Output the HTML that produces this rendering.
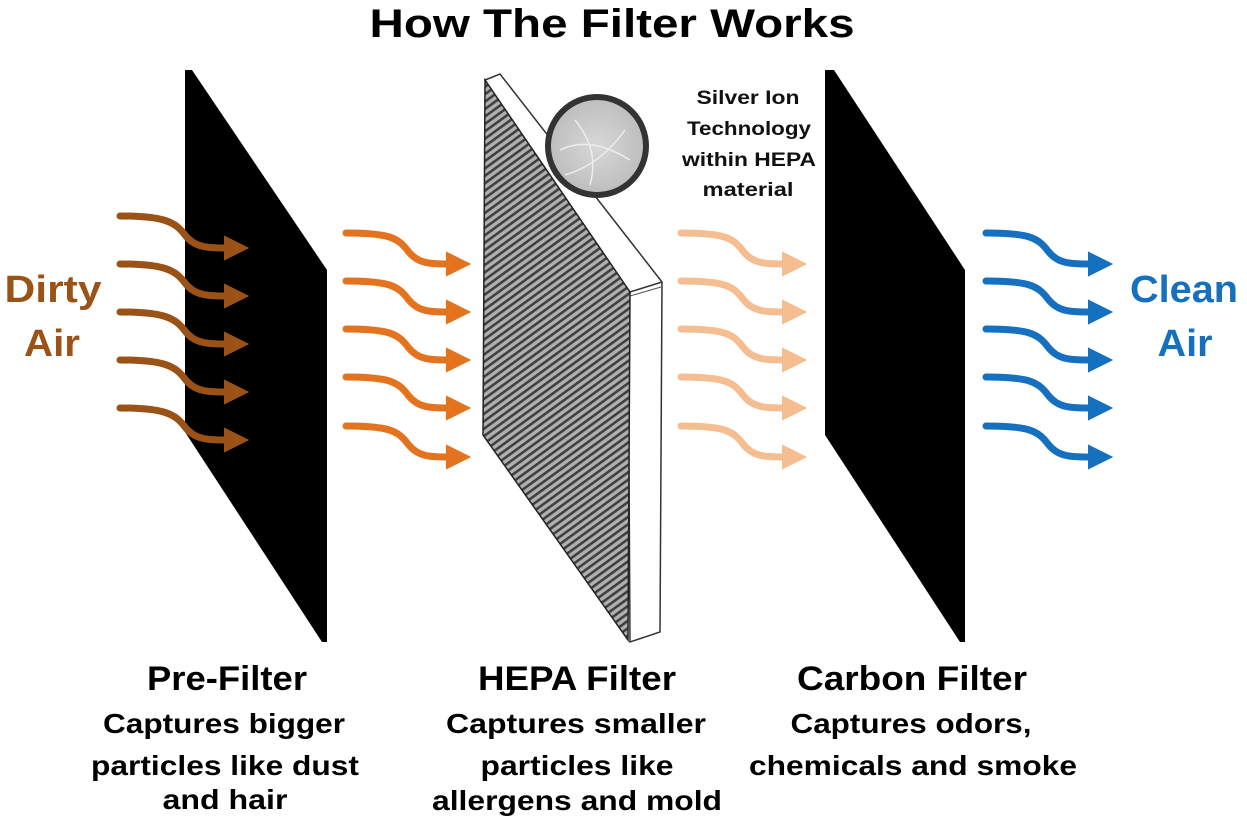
<!DOCTYPE html>
<html><head><meta charset="utf-8"><style>
html,body{margin:0;padding:0;background:#fff;width:1247px;height:826px;overflow:hidden}
svg{display:block}
text{font-family:"Liberation Sans",Arial,sans-serif;font-weight:bold}
</style></head><body>
<svg width="1247" height="826" viewBox="0 0 1247 826" xmlns="http://www.w3.org/2000/svg">
<defs>
<pattern id="stripes" patternUnits="userSpaceOnUse" width="6" height="6" patternTransform="rotate(54)">
<rect width="6" height="6" fill="#b0b0b0"/>
<rect width="2.6" height="6" fill="#404040"/>
</pattern>
<radialGradient id="fib" cx="0.5" cy="0.5" r="0.5">
<stop offset="0" stop-color="#d8d8d8"/><stop offset="1" stop-color="#bdbdbd"/>
</radialGradient>
<marker id="h" viewBox="0 0 10 10" refX="2" refY="5" markerWidth="3.6" markerHeight="3.6" orient="auto" markerUnits="strokeWidth">
<path d="M0,0 L10,5 L0,10 z" fill="context-stroke"/>
</marker>
</defs>

<text x="612" y="37" font-size="40" text-anchor="middle" textLength="485" lengthAdjust="spacingAndGlyphs">How The Filter Works</text>

<polygon points="185,70 192,70 327,270 327,642 322,642 185,432" fill="#000"/>

<polygon points="485,80 500,74 662,282 660,632 630,642 628,292" fill="#fff" stroke="#333" stroke-width="1.5"/>
<line x1="630" y1="292" x2="662" y2="282" stroke="#333" stroke-width="1.5"/>
<line x1="630" y1="296" x2="661" y2="287" stroke="#555" stroke-width="1"/>
<polygon points="485,80 630,292 628,640 483,435" fill="url(#stripes)" stroke="#222" stroke-width="1.5"/>
<circle cx="597" cy="146" r="49" fill="url(#fib)" stroke="#333" stroke-width="6"/>
<path d="M560,150 Q590,135 630,160 M575,120 Q600,150 590,185 M565,175 Q600,165 625,130" stroke="#eee" stroke-width="1.5" fill="none"/>

<polygon points="825,70 834,70 965,270 965,642 960,642 825,435" fill="#000"/>

<g fill="none" stroke-width="7" stroke-linecap="round">
<g stroke="#9b5216">
<path d="M120,216 C165,216 175,222 185,235 C195,248 208,248 229,248" marker-end="url(#h)"/>
<path d="M120,264 C165,264 175,270 185,283 C195,296 208,296 229,296" marker-end="url(#h)"/>
<path d="M120,312 C165,312 175,318 185,331 C195,344 208,344 229,344" marker-end="url(#h)"/>
<path d="M120,360 C165,360 175,366 185,379 C195,392 208,392 229,392" marker-end="url(#h)"/>
<path d="M120,408 C165,408 175,414 185,427 C195,440 208,440 229,440" marker-end="url(#h)"/>
</g>
<g stroke="#e3731e">
<path d="M346,233 C390,233 398,238 408,251 C418,264 430,264 451,264" marker-end="url(#h)"/>
<path d="M346,281 C390,281 398,286 408,299 C418,312 430,312 451,312" marker-end="url(#h)"/>
<path d="M346,329 C390,329 398,334 408,347 C418,360 430,360 451,360" marker-end="url(#h)"/>
<path d="M346,377 C390,377 398,382 408,395 C418,408 430,408 451,408" marker-end="url(#h)"/>
<path d="M346,426 C390,426 398,431 408,444 C418,457 430,457 451,457" marker-end="url(#h)"/>
</g>
<g stroke="#f5be91">
<path d="M681,233 C725,233 733,238 743,251 C753,264 765,264 787,264" marker-end="url(#h)"/>
<path d="M681,281 C725,281 733,286 743,299 C753,312 765,312 787,312" marker-end="url(#h)"/>
<path d="M681,329 C725,329 733,334 743,347 C753,360 765,360 787,360" marker-end="url(#h)"/>
<path d="M681,377 C725,377 733,382 743,395 C753,408 765,408 787,408" marker-end="url(#h)"/>
<path d="M681,426 C725,426 733,431 743,444 C753,457 765,457 787,457" marker-end="url(#h)"/>
</g>
<g stroke="#1570bf">
<path d="M986,233 C1030,233 1038,238 1048,251 C1058,264 1070,264 1093,264" marker-end="url(#h)"/>
<path d="M986,281 C1030,281 1038,286 1048,299 C1058,312 1070,312 1093,312" marker-end="url(#h)"/>
<path d="M986,329 C1030,329 1038,334 1048,347 C1058,360 1070,360 1093,360" marker-end="url(#h)"/>
<path d="M986,377 C1030,377 1038,382 1048,395 C1058,408 1070,408 1093,408" marker-end="url(#h)"/>
<path d="M986,426 C1030,426 1038,431 1048,444 C1058,457 1070,457 1093,457" marker-end="url(#h)"/>
</g>
</g>

<g font-size="38" text-anchor="middle">
<text x="53" y="302" fill="#9b5216" textLength="97" lengthAdjust="spacingAndGlyphs">Dirty</text>
<text x="52" y="356" fill="#9b5216" textLength="56" lengthAdjust="spacingAndGlyphs">Air</text>
<text x="1184" y="302" fill="#1570bf" textLength="108" lengthAdjust="spacingAndGlyphs">Clean</text>
<text x="1185" y="356" fill="#1570bf" textLength="55" lengthAdjust="spacingAndGlyphs">Air</text>
</g>

<g font-size="19" text-anchor="middle" fill="#111">
<text x="748" y="104" textLength="103" lengthAdjust="spacingAndGlyphs">Silver Ion</text>
<text x="749" y="135" textLength="124" lengthAdjust="spacingAndGlyphs">Technology</text>
<text x="749" y="166" textLength="134" lengthAdjust="spacingAndGlyphs">within HEPA</text>
<text x="748" y="196" textLength="91" lengthAdjust="spacingAndGlyphs">material</text>
</g>

<g text-anchor="middle" fill="#000">
<g font-size="34">
<text x="227" y="690" textLength="160" lengthAdjust="spacingAndGlyphs">Pre-Filter</text>
<text x="577" y="690" textLength="198" lengthAdjust="spacingAndGlyphs">HEPA Filter</text>
<text x="912" y="690" textLength="230" lengthAdjust="spacingAndGlyphs">Carbon Filter</text>
</g>
<g font-size="28">
<text x="224" y="733" textLength="242" lengthAdjust="spacingAndGlyphs">Captures bigger</text>
<text x="225" y="775" textLength="268" lengthAdjust="spacingAndGlyphs">particles like dust</text>
<text x="225" y="809" textLength="125" lengthAdjust="spacingAndGlyphs">and hair</text>
<text x="576" y="733" textLength="260" lengthAdjust="spacingAndGlyphs">Captures smaller</text>
<text x="577" y="775" textLength="193" lengthAdjust="spacingAndGlyphs">particles like</text>
<text x="577" y="810" textLength="290" lengthAdjust="spacingAndGlyphs">allergens and mold</text>
<text x="911" y="733" textLength="241" lengthAdjust="spacingAndGlyphs">Captures odors,</text>
<text x="913" y="775" textLength="328" lengthAdjust="spacingAndGlyphs">chemicals and smoke</text>
</g>
</g>
</svg>
</body></html>
